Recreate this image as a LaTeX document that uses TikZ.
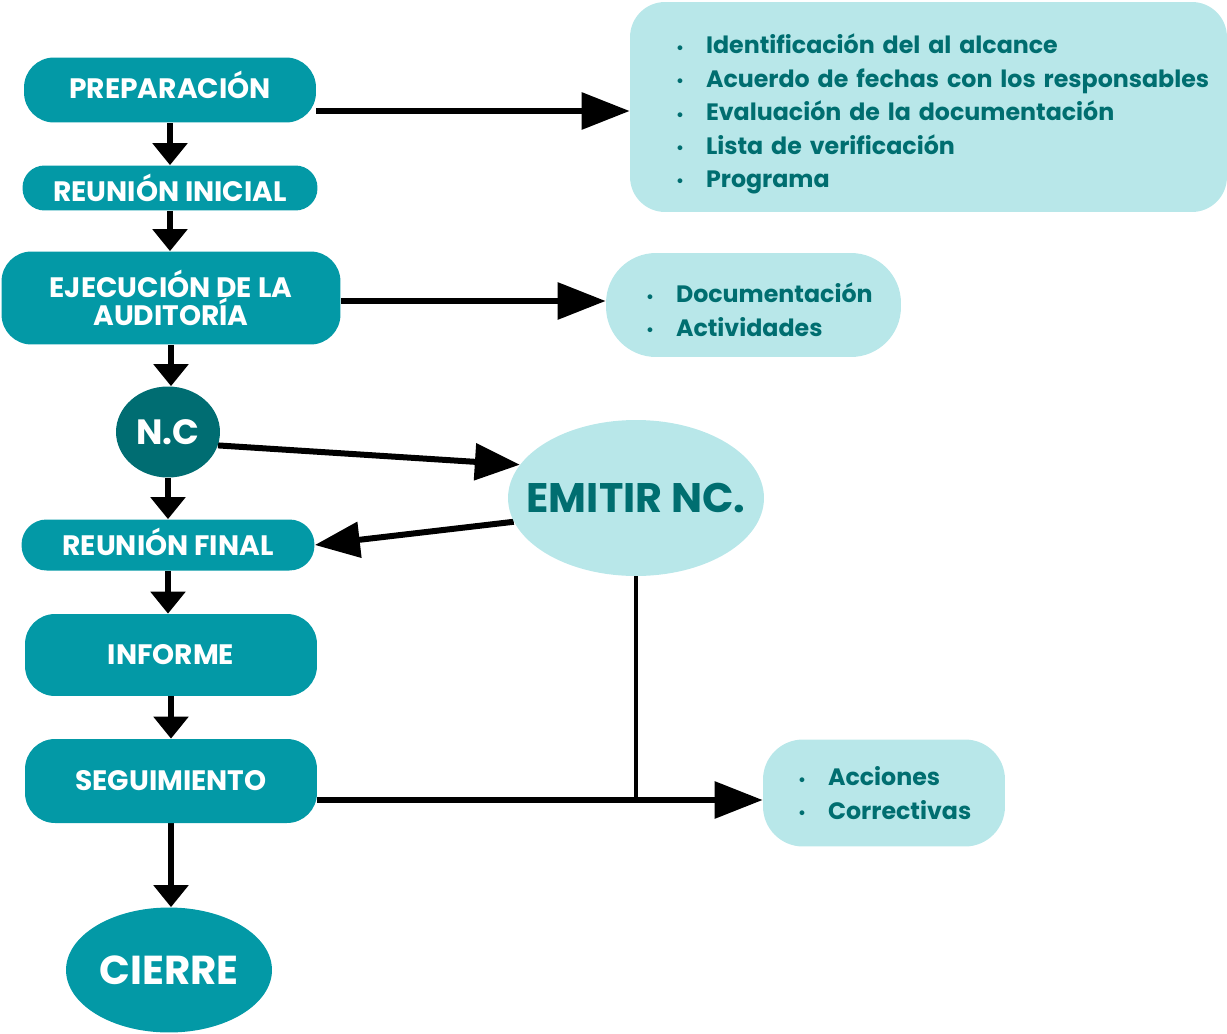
\documentclass[tikz,border=0pt]{standalone}
\usepackage{fontspec}
\setmainfont{Poppins}
\usetikzlibrary{arrows.meta,shapes.geometric,backgrounds}
\definecolor{tealmid}{RGB}{3,153,166}
\definecolor{tealdark}{RGB}{0,109,114}
\definecolor{tealpale}{RGB}{184,231,233}
\definecolor{tealtext}{RGB}{0,110,112}
\newcommand{\itm}{\makebox[0.6cm][l]{\raisebox{0.02em}{\small\textbullet}}}
\newcommand{\listlines}[2]{\raisebox{-#1}[\height][\depth]{\begin{tabular}{@{}l@{}}#2\end{tabular}}}
\newcommand{\lift}[2]{\raisebox{#1}[\height][\depth]{#2}}
\tikzset{
	stage/.style={fill=tealmid, text=white, font=\bfseries\fontsize{16}{16}\selectfont, align=center, inner sep=0pt},
	listbox/.style={fill=tealpale, text=tealtext, font=\bfseries\fontsize{13.5}{19}\selectfont, align=left},
	oval/.style={ellipse, inner sep=0pt},
	arr/.style={line width=0.13cm, -{Triangle[length=0.44cm,width=0.68cm]}},
	bigarr/.style={line width=0.12cm, -{Triangle[length=0.96cm,width=0.72cm]}},
}
\begin{document}
\begin{tikzpicture}[x=0.02cm,y=-0.02cm]
	\useasboundingbox (0,0) rectangle (1227,1034);

	\node[stage, rounded corners=0.6cm, minimum width=5.84cm, minimum height=1.3cm] (prep) at (170,90) {\lift{0.1cm}{PREPARACIÓN}};
	\node[stage, rounded corners=0.44cm, minimum width=5.9cm, minimum height=0.9cm] (inicial) at (170,188) {REUNIÓN INICIAL};
	\node[stage, rounded corners=0.6cm, minimum width=6.78cm, minimum height=1.86cm] (ejec) at (171,298) {EJECUCIÓN DE LA\\AUDITORÍA};
	\node[oval, fill=tealdark, text=white, font=\bfseries\fontsize{20}{20}\selectfont, minimum width=2.08cm, minimum height=1.82cm] (nc) at (168,432) {\makebox[0pt]{N.C}};
	\node[oval, fill=tealpale, text=tealtext, font=\bfseries\fontsize{23.5}{23.5}\selectfont, minimum width=5.12cm, minimum height=3.12cm] (emitir) at (636,498) {\makebox[0pt]{EMITIR NC.}};
	\node[stage, rounded corners=0.5cm, minimum width=5.86cm, minimum height=1.02cm] (final) at (168,545) {\lift{0.06cm}{REUNIÓN FINAL}};
	\node[stage, rounded corners=0.6cm, minimum width=5.84cm, minimum height=1.64cm] (informe) at (171,655) {INFORME};
	\node[stage, rounded corners=0.6cm, minimum width=5.84cm, minimum height=1.68cm] (seg) at (171,781) {SEGUIMIENTO};
	\node[oval, fill=tealmid, text=white, font=\bfseries\fontsize{23}{23}\selectfont, minimum width=4.12cm, minimum height=2.5cm] (cierre) at (169,970) {\makebox[0pt]{CIERRE}};

	\node[listbox, rounded corners=0.7cm, text width=10.1cm, inner xsep=0.92cm, minimum height=4.2cm] (alcance) at (928.5,107) {\listlines{0.14cm}{\itm Identificación del al alcance\\\itm Acuerdo de fechas con los responsables\\\itm Evaluación de la documentación\\\itm Lista de verificación\\\itm Programa}};
	\node[listbox, rounded corners=1cm, text width=4.3cm, inner xsep=0.8cm, minimum height=2.08cm] (docs) at (753.5,305) {\listlines{0.16cm}{\itm Documentación\\\itm Actividades}};
	\node[listbox, rounded corners=0.8cm, text width=3.44cm, inner xsep=0.7cm, minimum height=2.14cm] (acciones) at (884,793) {\listlines{0.06cm}{\itm Acciones\\\itm Correctivas}};

	\coordinate (cruce) at ([yshift=-0.38cm]seg.east -| emitir.south);

	\begin{scope}[on background layer]
	\draw[arr] (prep.south) -- (prep.south |- inicial.north);
	\draw[arr] (inicial.south) -- (inicial.south |- ejec.north);
	\draw[arr] (ejec.south) -- (ejec.south |- nc.north);
	\draw[arr] (nc.south) -- (nc.south |- final.north);
	\draw[arr] (final.south) -- (final.south |- informe.north);
	\draw[arr] (informe.south) -- (informe.south |- seg.north);
	\draw[arr] (seg.south) -- (seg.south |- cierre.north);

	\draw[bigarr] ([yshift=-0.42cm]prep.east) -- ([yshift=-0.42cm]prep.east -| alcance.west);
	\draw[bigarr] ([yshift=-0.06cm]ejec.east) -- ([yshift=-0.06cm]ejec.east -| docs.west);
	\draw[line width=0.12cm, -{Triangle[length=0.9cm,width=0.72cm]}] (nc.-15) -- (emitir.164);
	\draw[line width=0.12cm, -{Triangle[length=0.9cm,width=0.7cm]}] (emitir.191) -- (final.east);
	\draw[line width=0.08cm] (emitir.south) -- (cruce);
	\draw[bigarr] ([yshift=-0.38cm]seg.east) -- ([yshift=-0.38cm]seg.east -| acciones.west);
	\end{scope}
\end{tikzpicture}
\end{document}
